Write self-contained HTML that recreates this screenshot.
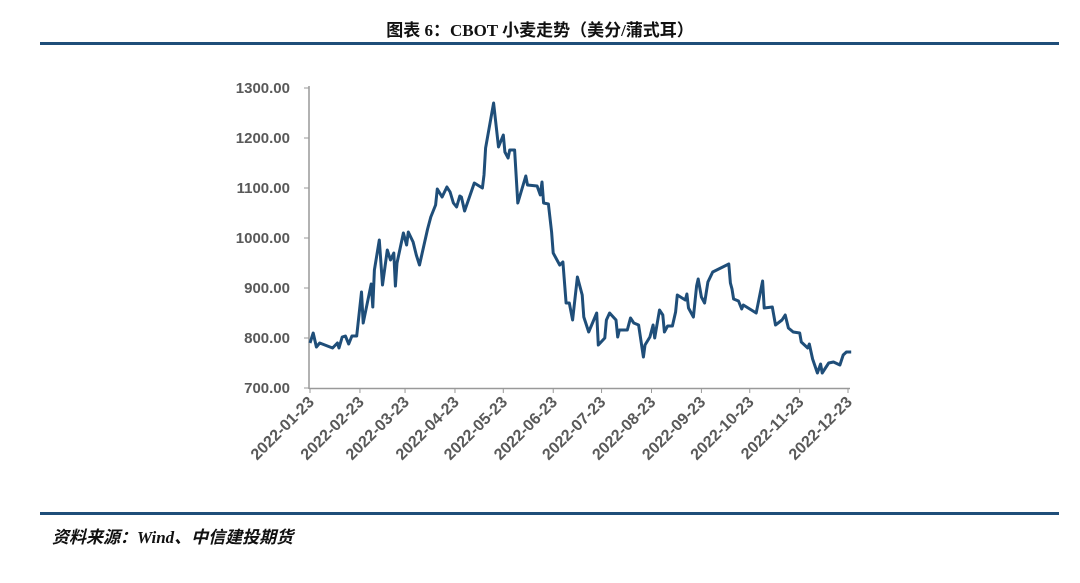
<!DOCTYPE html>
<html><head><meta charset="utf-8"><style>
body{margin:0;background:#fff;width:1080px;height:583px;overflow:hidden;font-family:"Liberation Sans","Noto Sans CJK SC",sans-serif}
#title{position:absolute;left:0;width:1080px;top:16px;text-align:center;font-family:"Liberation Serif","Noto Sans CJK SC",serif;font-weight:bold;font-size:17px;color:#111}
.rule{position:absolute;left:40px;width:1019px;height:3px;background:#1f4e79}
#src{position:absolute;left:52px;top:523px;font-family:"Liberation Serif","Noto Sans CJK SC",serif;font-size:17px;font-weight:bold;font-style:italic;color:#111}
</style></head><body>
<div id="title">图表 6：CBOT 小麦走势（美分/蒲式耳）</div>
<div class="rule" style="top:42px"></div>
<svg id="chart" width="1080" height="583" style="position:absolute;left:0;top:0"></svg>
<div class="rule" style="top:512px"></div>
<div id="src">资料来源：Wind、中信建投期货</div>
<script>
const days=[0,2,4,6,14,17,18,20,22,24,26,29,32,33,38,39,40,43,45,48,50,52,53,54,58,60,61,64,66,68,73,75,78,79,82,85,87,89,91,93,94,96,102,107,108,109,114,117,120,121,123,124,127,129,134,135,141,143,144,145,148,150,151,155,157,159,161,163,166,169,170,173,178,179,183,184,186,190,191,192,197,199,201,204,207,208,211,213,214,217,219,220,222,225,227,228,233,234,235,238,240,241,243,245,247,250,260,261,262,263,266,268,269,274,277,281,282,287,289,293,295,297,300,304,305,309,310,312,315,317,318,322,325,329,331,333,336];
const prices=[790,810,782,790,780,790,780,802,804,788,804,804,892,830,908,862,936,996,906,976,956,970,904,950,1010,986,1012,992,966,946,1018,1042,1066,1098,1082,1102,1092,1070,1062,1084,1082,1054,1110,1100,1126,1180,1270,1182,1206,1172,1160,1176,1176,1070,1124,1106,1104,1086,1112,1070,1068,1012,970,946,952,870,870,836,922,886,842,812,850,786,800,836,850,836,802,816,816,840,830,826,762,786,802,826,800,856,846,812,824,824,852,886,876,888,860,842,904,918,882,870,912,932,948,910,898,878,874,858,866,856,850,914,860,862,826,836,846,820,812,810,792,780,788,758,730,748,730,750,752,746,766,772,772];
const yTicks=[700,800,900,1000,1100,1200,1300];
const xTicks=["2022-01-23","2022-02-23","2022-03-23","2022-04-23","2022-05-23","2022-06-23","2022-07-23","2022-08-23","2022-09-23","2022-10-23","2022-11-23","2022-12-23"];
const xTickDays=[0,31,59,90,120,151,181,212,243,273,304,334];
const NS="http://www.w3.org/2000/svg";
const svg=document.getElementById('chart');
const X0=310,X1=848,Y0=388,Y1=88;
const xs=d=>X0+(d-0)/(334)*(X1-X0);
const ys=v=>Y0-(v-700)/(600)*(Y0-Y1);
function mk(t,a){const e=document.createElementNS(NS,t);for(const k in a)e.setAttribute(k,a[k]);svg.appendChild(e);return e;}
const ya=mk('line',{x1:309,y1:86,x2:309,y2:389,stroke:'#999','stroke-width':1.5});


const xa=mk('line',{x1:309,y1:388.5,x2:850,y2:388.5,stroke:'#999','stroke-width':1.5});


yTicks.forEach(v=>{
 const y=ys(v);
 mk('line',{x1:304,y1:y,x2:309,y2:y,stroke:'#999','stroke-width':1});
 const t=mk('text',{x:290,y:y+5,'text-anchor':'end','font-size':15,'font-weight':'bold',fill:'#595959','font-family':'Liberation Sans, sans-serif'});
 t.textContent=v.toFixed(2);
 
 
});
xTicks.forEach((s,i)=>{
 const x=xs(xTickDays[i]);
 mk('line',{x1:x,y1:388,x2:x,y2:393,stroke:'#999','stroke-width':1});
 const t=mk('text',{x:x+5,y:403,'text-anchor':'end','font-size':16,'font-weight':'bold',fill:'#595959','font-family':'Liberation Sans, sans-serif',transform:`rotate(-45 ${x+5} 403)`});
 t.textContent=s;
 
 
});
const p=mk('polyline',{points:days.map((d,i)=>xs(d).toFixed(1)+','+ys(prices[i]).toFixed(1)).join(' '),fill:'none',stroke:'#1f4e79','stroke-width':3,'stroke-linejoin':'round'});


</script>
</body></html>
